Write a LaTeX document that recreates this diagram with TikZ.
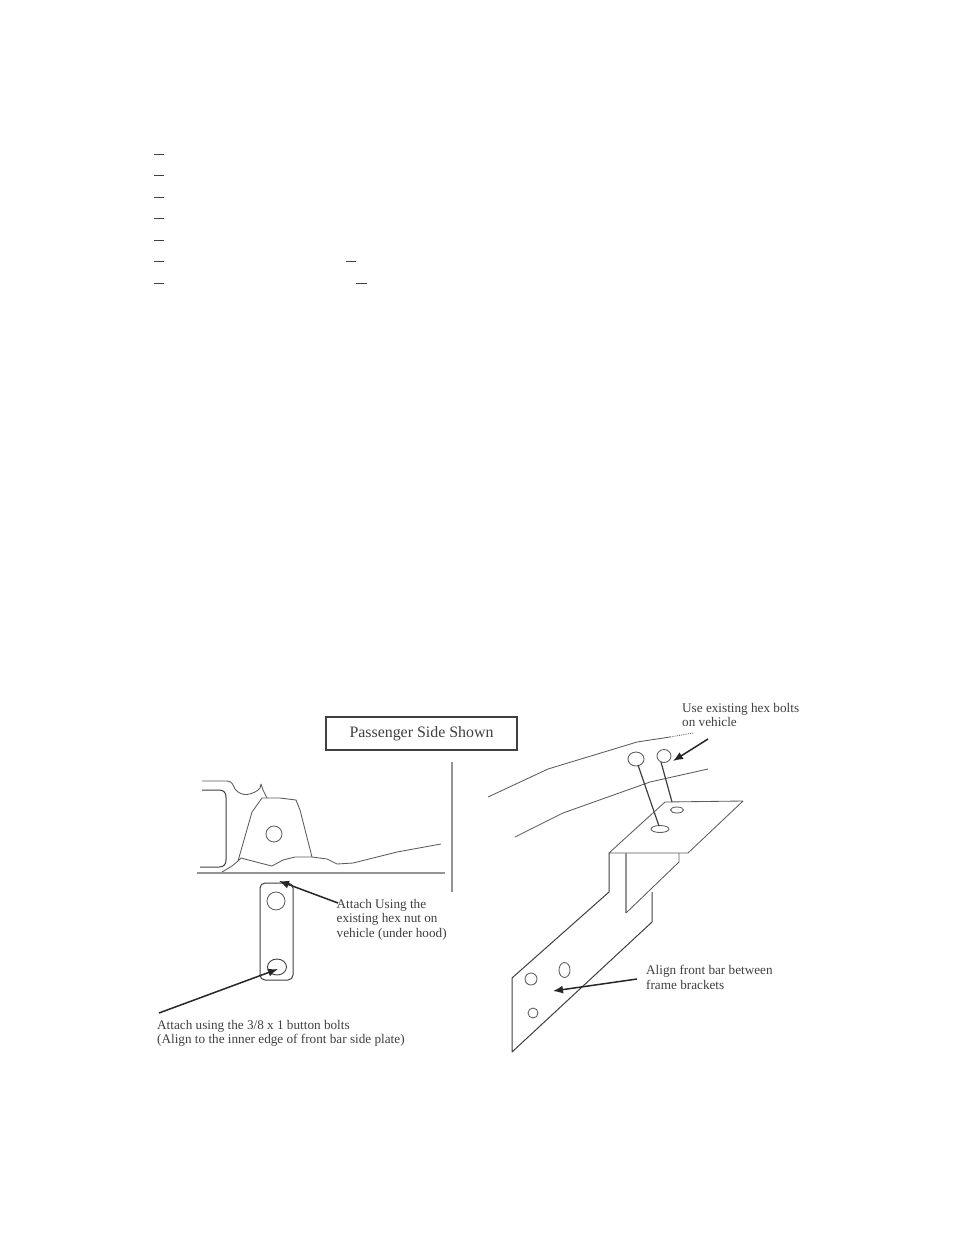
\documentclass[tikz,border=0pt]{standalone}
\usepackage{fontspec}
\setmainfont{Liberation Serif}
\usetikzlibrary{arrows.meta,shapes.geometric}
\definecolor{ink}{gray}{0.25}
\definecolor{midgray}{gray}{0.58}
\tikzset{
  x=1pt,y=-1pt,
  thin line/.style={draw=ink,line width=1pt,line join=round},
  fine line/.style={draw=ink!85,line width=0.85pt,line join=round},
  rule line/.style={draw=midgray,line width=2pt},
  pointer/.style={draw=ink!60!black,line width=1.5pt,-{Latex[length=10pt,width=8pt]}},
  label/.style={text=ink,font=\fontsize{13.2}{14.5}\selectfont,anchor=north west,align=left,inner sep=0pt},
  blank/.style={draw=ink,line width=1pt}
}
\begin{document}
\begin{tikzpicture}
\useasboundingbox[fill=white] (0,0) rectangle (954,1235);

% blanks
\draw[blank] (154,154.5) -- (164,154.5);
\draw[blank] (154,175.5) -- (164,175.5);
\draw[blank] (154,197.5) -- (164,197.5);
\draw[blank] (154,218.5) -- (164,218.5);
\draw[blank] (154,240.5) -- (164,240.5);
\draw[blank] (154,261.5) -- (164,261.5);
\draw[blank] (154,283.5) -- (164,283.5);
\draw[blank] (346,261.5) -- (356,261.5);
\draw[blank] (356,283.5) -- (367,283.5);

% title box
\node[draw=ink,line width=1.5pt,minimum width=191pt,minimum height=33pt,inner sep=0pt,text=ink,font=\fontsize{15.9}{18}\selectfont] (title) at (421.5,733.5) {Passenger Side Shown};

% left view
\draw[fine line] (202,781) -- (227,781) .. controls (232,781) and (233,785) .. (235,789) .. controls (238,793) and (243,795) .. (247,794.5) .. controls (252,794) and (258,791) .. (260,788) -- (261,784) -- (263,790) -- (267,798);
\draw[thin line] (202,790) -- (219,790) .. controls (224,790) and (226,793) .. (226,797) -- (226,860) .. controls (226,864) and (224,867) .. (219,867) -- (200,867);
\draw[fine line] (238,861) -- (252,812) -- (262,798) -- (280,798) -- (296,800) -- (300,810) -- (312,857);
\draw[fine line] (222,872) -- (232,866) -- (238,861) -- (241,858) -- (260,863) -- (272,866) -- (283,860) -- (295,857) -- (312,857) -- (327,859) -- (337,864) -- (353,863) -- (397,852) -- (441,844);
\draw[rule line] (197,873) -- (445,873);
\draw[draw=midgray,line width=1.2pt] (452,762) -- (452,892);
\draw[fine line] (274,834) circle[radius=8];

\draw[thin line,rounded corners=5pt] (260,883) rectangle (293,980);
\node[draw=ink!85,line width=0.85pt,circle,minimum size=18pt,inner sep=0pt] (uphole) at (276,901) {};
\node[draw=ink,line width=0.9pt,ellipse,minimum width=19pt,minimum height=16pt,inner sep=0pt] (lowhole) at (277,967) {};

\node[label] (hexnut) at (336.5,899) {Attach Using the\\existing hex nut on\\vehicle (under hood)};
\node[label] (button) at (157,1020) {Attach using the 3/8 x 1 button bolts\\(Align to the inner edge of front bar side plate)};
\coordinate (a1s) at (338,903);
\coordinate (a1e) at (279,881);
\coordinate (a2s) at (159,1013);
\coordinate (a2e) at (278,969);
\draw[pointer] (a1s) -- (a1e);
\draw[pointer] (a2s) -- (a2e);

% right view
\draw[fine line] (488,797) -- (548,769) -- (637,742) -- (670,737);
\draw[fine line,densely dotted] (670,737) -- (693,733);
\draw[fine line] (515,837) -- (563,813) -- (650,782) -- (708,769);

\node[draw=ink!85,line width=0.85pt,ellipse,minimum width=16pt,minimum height=14pt,inner sep=0pt] (bolta) at (636,759) {};
\node[draw=ink!85,line width=0.85pt,ellipse,minimum width=14pt,minimum height=13pt,inner sep=0pt] (boltb) at (664,756) {};
\node[draw=ink!85,line width=0.85pt,ellipse,minimum width=18pt,minimum height=7pt,inner sep=0pt] (slota) at (660,829) {};
\node[draw=ink!85,line width=0.85pt,ellipse,minimum width=13pt,minimum height=6pt,inner sep=0pt] (slotb) at (677,810) {};
\coordinate (bolta0) at (638,765);
\coordinate (slota0) at (659,826);
\coordinate (boltb0) at (661,762);
\coordinate (slotb0) at (672,802);
\draw[draw=ink,line width=1.2pt] (bolta0) -- (slota0);
\draw[draw=ink,line width=1.2pt] (boltb0) -- (slotb0);

\draw[fine line] (609,853) -- (665,802) -- (743,801) -- (688,853) -- cycle;
\draw[thin line] (609,853) -- (609,892) -- (512,978) -- (512,1052) -- (652,922) -- (652,892);
\draw[draw=midgray,line width=1.3pt] (626,853) -- (626,913);
\draw[fine line] (626,913) -- (679,862) -- (679,853);

\draw[fine line] (531,979) circle[radius=6];
\draw[fine line] (564.5,970) ellipse[x radius=5.5,y radius=7.5];
\draw[fine line] (533,1013) circle[radius=5];

\node[label] (usehex) at (682,703) {Use existing hex bolts\\on vehicle};
\node[label] (alignbar) at (646,965) {Align front bar between\\frame brackets};
\coordinate (a3s) at (708,739);
\coordinate (a3e) at (673,761);
\coordinate (a4s) at (637,979);
\coordinate (a4e) at (553,991);
\draw[pointer] (a3s) -- (a3e);
\draw[pointer] (a4s) -- (a4e);
\end{tikzpicture}
\end{document}
